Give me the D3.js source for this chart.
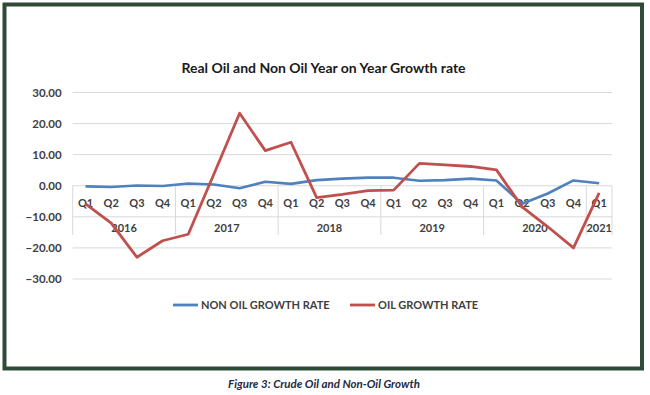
<!DOCTYPE html>
<html><head><meta charset="utf-8">
<script src="https://cdn.jsdelivr.net/npm/d3@7"></script>
<style>
html,body{margin:0;padding:0;background:#fff;}
svg{display:block;}
</style></head>
<body><svg id="c" width="650" height="395"></svg>
<script>
const years = ["2016","2017","2018","2019","2020","2021"];
const quarters = ["Q1","Q2","Q3","Q4","Q1","Q2","Q3","Q4","Q1","Q2","Q3","Q4","Q1","Q2","Q3","Q4","Q1","Q2","Q3","Q4","Q1"];
const quarterYears = ["2016","2016","2016","2016","2017","2017","2017","2017","2018","2018","2018","2018","2019","2019","2019","2019","2020","2020","2020","2020","2021"];
const nonOil = [-0.2,-0.4,0.1,-0.1,0.7,0.4,-0.8,1.3,0.6,1.8,2.3,2.6,2.6,1.6,1.8,2.3,1.7,-5.8,-2.5,1.7,0.8];
const oil = [-5.8,-12,-23,-17.7,-15.6,3.8,23.3,11.3,14.0,-3.8,-2.8,-1.6,-1.4,7.2,6.7,6.2,5.1,-6.8,-13.2,-20,-2.3];
const yTicks = [30,20,10,0,-10,-20,-30];
const seriesNames = ["NON OIL GROWTH RATE","OIL GROWTH RATE"];
const colors = ["#4f81bd","#c0504d"];
const title = "Real Oil and Non Oil Year on Year Growth rate";
const caption = "Figure 3: Crude Oil and Non-Oil Growth";

const svg = d3.select("#c");
const font = "Lato, 'Open Sans', sans-serif";
const txt = "#404040";

// frame
svg.append("rect").attr("x",4.5).attr("y",4.5).attr("width",637.5).attr("height",364)
  .attr("fill","#fff").attr("stroke","#2e4b37").attr("stroke-width",4);

const x = d3.scaleBand().domain(d3.range(quarters.length)).range([72.7,612]).padding(0);
const y = d3.scaleLinear().domain([-30,30]).range([279,92.5]);

// gridlines
svg.append("g").selectAll("line").data(yTicks).join("line")
  .attr("x1",72.7).attr("x2",612).attr("y1",d=>y(d)).attr("y2",d=>y(d))
  .attr("stroke","#d9d9d9").attr("stroke-width",1);

// y axis
const ya = svg.append("g").attr("transform","translate(72.7,0)")
  .call(d3.axisLeft(y).tickValues(yTicks).tickFormat(d3.format(".2f")).tickSize(0).tickPadding(11));
ya.select(".domain").remove();
ya.selectAll("text").attr("font-family",font).attr("font-weight","bold").attr("font-size","11.5px").attr("fill",txt);

// category axis structure
const bw = x.bandwidth();
const yearStarts = years.map(yr => quarterYears.indexOf(yr));
const sepX = yearStarts.map(i=>x(i)).concat([x(quarters.length-1)+bw]);
svg.append("g").selectAll("line").data(sepX).join("line")
  .attr("x1",d=>d).attr("x2",d=>d).attr("y1",y(0)).attr("y2",235)
  .attr("stroke","#d9d9d9").attr("stroke-width",1);

// quarter labels
svg.append("g").selectAll("text").data(quarters).join("text")
  .attr("x",(d,i)=>x(i)+bw/2).attr("y",207)
  .attr("text-anchor","middle").attr("font-family",font).attr("font-weight","bold")
  .attr("font-size","11px").attr("fill",txt).text(d=>d);

// year labels
svg.append("g").selectAll("text").data(years).join("text")
  .attr("x",(d,i)=>{const s=yearStarts[i]; const e=(i+1<years.length?yearStarts[i+1]:quarters.length); return (x(s)+x(e-1)+bw)/2;})
  .attr("y",231.5)
  .attr("text-anchor","middle").attr("font-family",font).attr("font-weight","bold")
  .attr("font-size","11px").attr("fill",txt).text(d=>d);

// lines
const line = d3.line().x((d,i)=>x(i)+bw/2).y(d=>y(d));
[nonOil, oil].forEach((s,k)=>{
  svg.append("path").datum(s).attr("d",line).attr("fill","none")
    .attr("stroke",colors[k]).attr("stroke-width",k===0?2.6:2.8).attr("stroke-linejoin","round");
});

// title
svg.append("text").attr("x",323.5).attr("y",73).attr("text-anchor","middle")
  .attr("font-family",font).attr("font-weight","bold").attr("font-size","14px").attr("fill","#1a1a1a").text(title);

// legend
const legX = [173, 350];
seriesNames.forEach((n,k)=>{
  svg.append("line").attr("x1",legX[k]).attr("x2",legX[k]+25).attr("y1",305).attr("y2",305)
    .attr("stroke",colors[k]).attr("stroke-width",2.8);
  svg.append("text").attr("x",legX[k]+28).attr("y",309).attr("font-family",font).attr("font-weight","bold")
    .attr("font-size","11px").attr("fill",txt).text(n);
});

// caption
svg.append("text").attr("x",324).attr("y",388).attr("text-anchor","middle")
  .attr("font-family",font).attr("font-weight","bold").attr("font-style","italic")
  .attr("font-size","11.5px").attr("fill","#1f2a44").text(caption);
</script></body></html>
